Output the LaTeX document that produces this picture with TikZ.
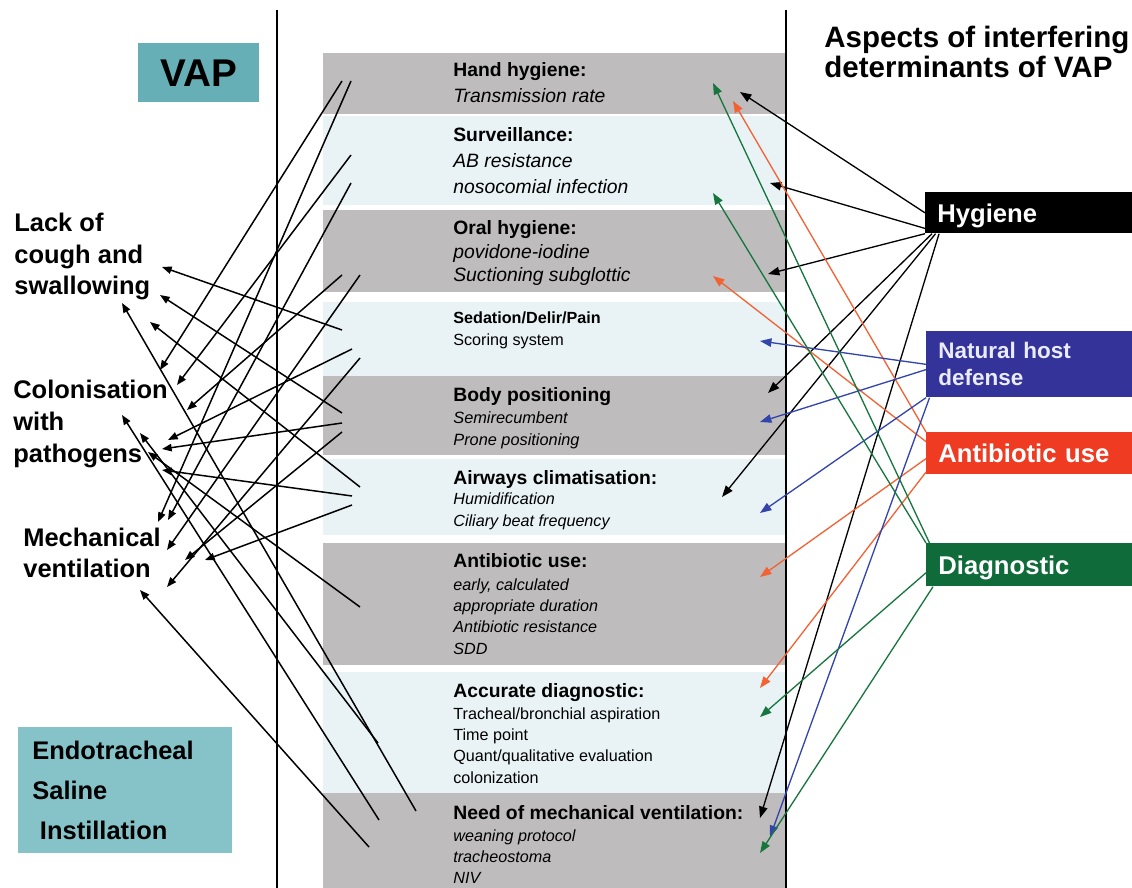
\documentclass[tikz,border=0pt]{standalone}
\usepackage{fontspec}
\setmainfont{Liberation Sans}
\usetikzlibrary{arrows.meta}

\definecolor{bandgrey}{HTML}{BEBCBC}
\definecolor{bandlight}{HTML}{E9F3F6}
\definecolor{vapteal}{HTML}{67AFB7}
\definecolor{etsteal}{HTML}{86C3C9}
\definecolor{nhdblue}{HTML}{333399}
\definecolor{abxred}{HTML}{EE3B22}
\definecolor{diagreen}{HTML}{0F6B3A}
\definecolor{abxline}{HTML}{F26234}
\definecolor{dialine}{HTML}{16763E}
\definecolor{nhdline}{HTML}{3344AA}

\begin{document}
\begin{tikzpicture}[x=0.02cm,y=-0.02cm,
  head/.style={anchor=base west,inner sep=0pt,font=\bfseries\fontsize{11}{14.8}\selectfont},
  smallhead/.style={anchor=base west,inner sep=0pt,font=\bfseries\fontsize{9.2}{12.5}\selectfont},
  items/.style={anchor=base west,inner sep=0pt,align=left},
  label/.style={anchor=base west,inner sep=0pt,align=left,font=\bfseries\fontsize{14.5}{18}\selectfont},
  factor/.style={anchor=north west,inner xsep=0.24cm,inner ysep=0pt,minimum width=4.14cm,
    text width=3.66cm,align=left,text=white,font=\bfseries\fontsize{14.6}{17}\selectfont},
  leftarr/.style={-{Triangle[length=5.5pt,width=4.2pt]},line width=0.85pt},
  rightarr/.style={-{Triangle[length=6.5pt,width=4.8pt]},line width=0.75pt}]

\useasboundingbox (0,0) rectangle (1132,888);

% bands
\fill[bandgrey] (323,53) rectangle (785,114);
\fill[bandlight] (323,116) rectangle (785,205);
\fill[bandgrey] (323,210) rectangle (785,292);
\fill[bandlight] (323,302) rectangle (785,376);
\fill[bandgrey] (323,376) rectangle (785,455);
\fill[bandlight] (323,459) rectangle (785,535);
\fill[bandgrey] (323,543) rectangle (785,665);
\fill[bandlight] (323,672) rectangle (785,793);
\fill[bandgrey] (323,793) rectangle (785,888);

\draw[line width=1.1pt] (277,10) -- (277,888);
\draw[line width=1.1pt] (786,10) -- (786,888);

% measures in the bands (multi-line nodes sit on their last line)
\node[head] (hand) at (453,77) {Hand hygiene:};
\node[items,font=\itshape\fontsize{11}{14.8}\selectfont] (handtx) at (453,103) {Transmission rate};
\node[head] (surv) at (453,142) {Surveillance:};
\node[items,font=\itshape\fontsize{11}{14.8}\selectfont] (survtx) at (453,194) {AB resistance\\nosocomial infection};
\node[head] (oral) at (453,235) {Oral hygiene:};
\node[items,font=\itshape\fontsize{11}{13.4}\selectfont] (oraltx) at (453,282) {povidone-iodine\\Suctioning subglottic};
\node[smallhead] (sed) at (453,324) {Sedation/Delir/Pain};
\node[items,font=\fontsize{9.2}{12.5}\selectfont] (sedtx) at (453,346) {Scoring system};
\node[head] (body) at (453,401) {Body positioning};
\node[items,font=\itshape\fontsize{9.3}{12.5}\selectfont] (bodytx) at (453,445) {Semirecumbent\\Prone positioning};
\node[head] (airw) at (453,484) {Airways climatisation:};
\node[items,font=\itshape\fontsize{9.2}{12.3}\selectfont] (airwtx) at (453,526) {Humidification\\Ciliary beat frequency};
\node[head] (abxuse) at (453,567) {Antibiotic use:};
\node[items,font=\itshape\fontsize{9.2}{12.1}\selectfont] (abxtx) at (453,654) {early, calculated\\appropriate duration\\Antibiotic resistance\\SDD};
\node[head] (accd) at (453,697) {Accurate diagnostic:};
\node[items,font=\fontsize{9.2}{12.1}\selectfont] (accdtx) at (453,783) {Tracheal/bronchial aspiration\\Time point\\Quant/qualitative evaluation\\colonization};
\node[head] (need) at (453,819) {Need of mechanical ventilation:};
\node[items,font=\itshape\fontsize{9.2}{11.8}\selectfont] (needtx) at (453,883) {weaning protocol\\tracheostoma\\NIV};

% left side
\node[fill=vapteal,minimum width=2.42cm,minimum height=1.18cm,inner sep=0pt,text height=15.8pt,text depth=0pt,
  font=\bfseries\fontsize{22}{24}\selectfont] (vap) at (198.5,72.5) {VAP};
\node[label] (cough) at (14,295) {Lack of\\cough and\\swallowing};
\node[label] (colon) at (13,462) {Colonisation\\with\\pathogens};
\node[label,font=\bfseries\fontsize{14.5}{17.6}\selectfont] (mech) at (23,577) {Mechanical\\ventilation};
\node[anchor=north west,fill=etsteal,minimum width=4.28cm,minimum height=2.52cm,inner xsep=0.28cm,inner ysep=0pt,
  text width=3.72cm,align=left,font=\bfseries\fontsize{14.5}{23}\selectfont] (ets) at (18,727)
  {Endotracheal\\Saline\\\hspace*{0.3em}Instillation};

% right side
\node[anchor=base west,inner sep=0pt,align=left,font=\bfseries\fontsize{16.8}{17.6}\selectfont] (title) at (824,78)
  {Aspects of interfering\\determinants of VAP};

% left connectors
\foreach \n/\mx/\my/\tx/\ty in {1/342/330/162/267, 2/342/413/160/295, 3/416/811/122/303, 4/360/487/150/322,
  5/342/423/162/449, 6/379/820/122/415, 7/378/743/140/433, 8/360/607/148/452, 9/352/496/162/470,
  10/369/847/140/590, 11/342/81/160/370, 12/351/81/158/522, 13/351/155/177/385, 14/351/183/168/520,
  15/342/275/187/410, 16/360/275/167/550, 17/352/349/168/440, 18/360/358/167/587, 19/342/432/185/560,
  20/352/505/205/560} {
  \coordinate (lm\n) at (\mx,\my);
  \coordinate (lt\n) at (\tx,\ty);
  \draw[leftarr] (lm\n) -- (lt\n);
}

% right connectors
\node[factor,fill=black,minimum height=0.82cm,text height=10.5pt,text depth=0pt] (hyg) at (925,192) {Hygiene};
\node[factor,fill=nhdblue,minimum height=1.32cm,text=white!92!blue,font=\bfseries\fontsize{12.8}{15.4}\selectfont] (nhd) at (926,331) {Natural host\\defense};
\node[factor,fill=abxred,minimum height=0.84cm,text height=10.5pt,text depth=0pt] (abx) at (926,432) {Antibiotic use};
\node[factor,fill=diagreen,minimum height=0.86cm,text height=10.5pt,text depth=0pt] (dia) at (926,543) {Diagnostic};

\coordinate (hy1) at (740,92);
\coordinate (hy2) at (770,183);
\coordinate (hy3) at (768,274);
\coordinate (hy4) at (768,393);
\coordinate (hy5) at (722,497);
\coordinate (hy6) at (760,818);
\draw[rightarr] (hyg.west) -- (hy1);
\draw[rightarr] ([yshift=3pt]hyg.south west) -- (hy2);
\draw[rightarr] (hyg.south west) -- (hy3);
\draw[rightarr] ([xshift=4pt]hyg.south west) -- (hy4);
\draw[rightarr] ([xshift=6pt]hyg.south west) -- (hy5);
\draw[rightarr] ([xshift=8pt]hyg.south west) -- (hy6);

\coordinate (ab1) at (733,101);
\coordinate (ab2) at (713,276);
\coordinate (ab3) at (760,577);
\coordinate (ab4) at (760,688);
\draw[rightarr,abxline] (abx.north west) -- (ab1);
\draw[rightarr,abxline] ([yshift=-5.5pt]abx.north west) -- (ab2);
\draw[rightarr,abxline] ([yshift=-3pt]abx.west) -- (ab3);
\draw[rightarr,abxline] ([yshift=1.5pt]abx.south west) -- (ab4);

\coordinate (nh1) at (760,341);
\coordinate (nh2) at (760,422);
\coordinate (nh3) at (760,513);
\coordinate (nh4) at (770,837);
\draw[rightarr,nhdline] (nhd.west) -- (nh1);
\draw[rightarr,nhdline] ([yshift=-3pt]nhd.west) -- (nh2);
\draw[rightarr,nhdline] (nhd.south west) -- (nh3);
\draw[rightarr,nhdline] ([xshift=2pt]nhd.south west) -- (nh4);

\coordinate (dg1) at (713,83);
\coordinate (dg2) at (713,193);
\coordinate (dg3) at (760,717);
\coordinate (dg4) at (760,853);
\draw[rightarr,dialine] ([xshift=2pt]dia.north west) -- (dg1);
\draw[rightarr,dialine] (dia.north west) -- (dg2);
\draw[rightarr,dialine] ([yshift=-4.5pt]dia.west) -- (dg3);
\draw[rightarr,dialine] ([xshift=4pt]dia.south west) -- (dg4);
\end{tikzpicture}
\end{document}
